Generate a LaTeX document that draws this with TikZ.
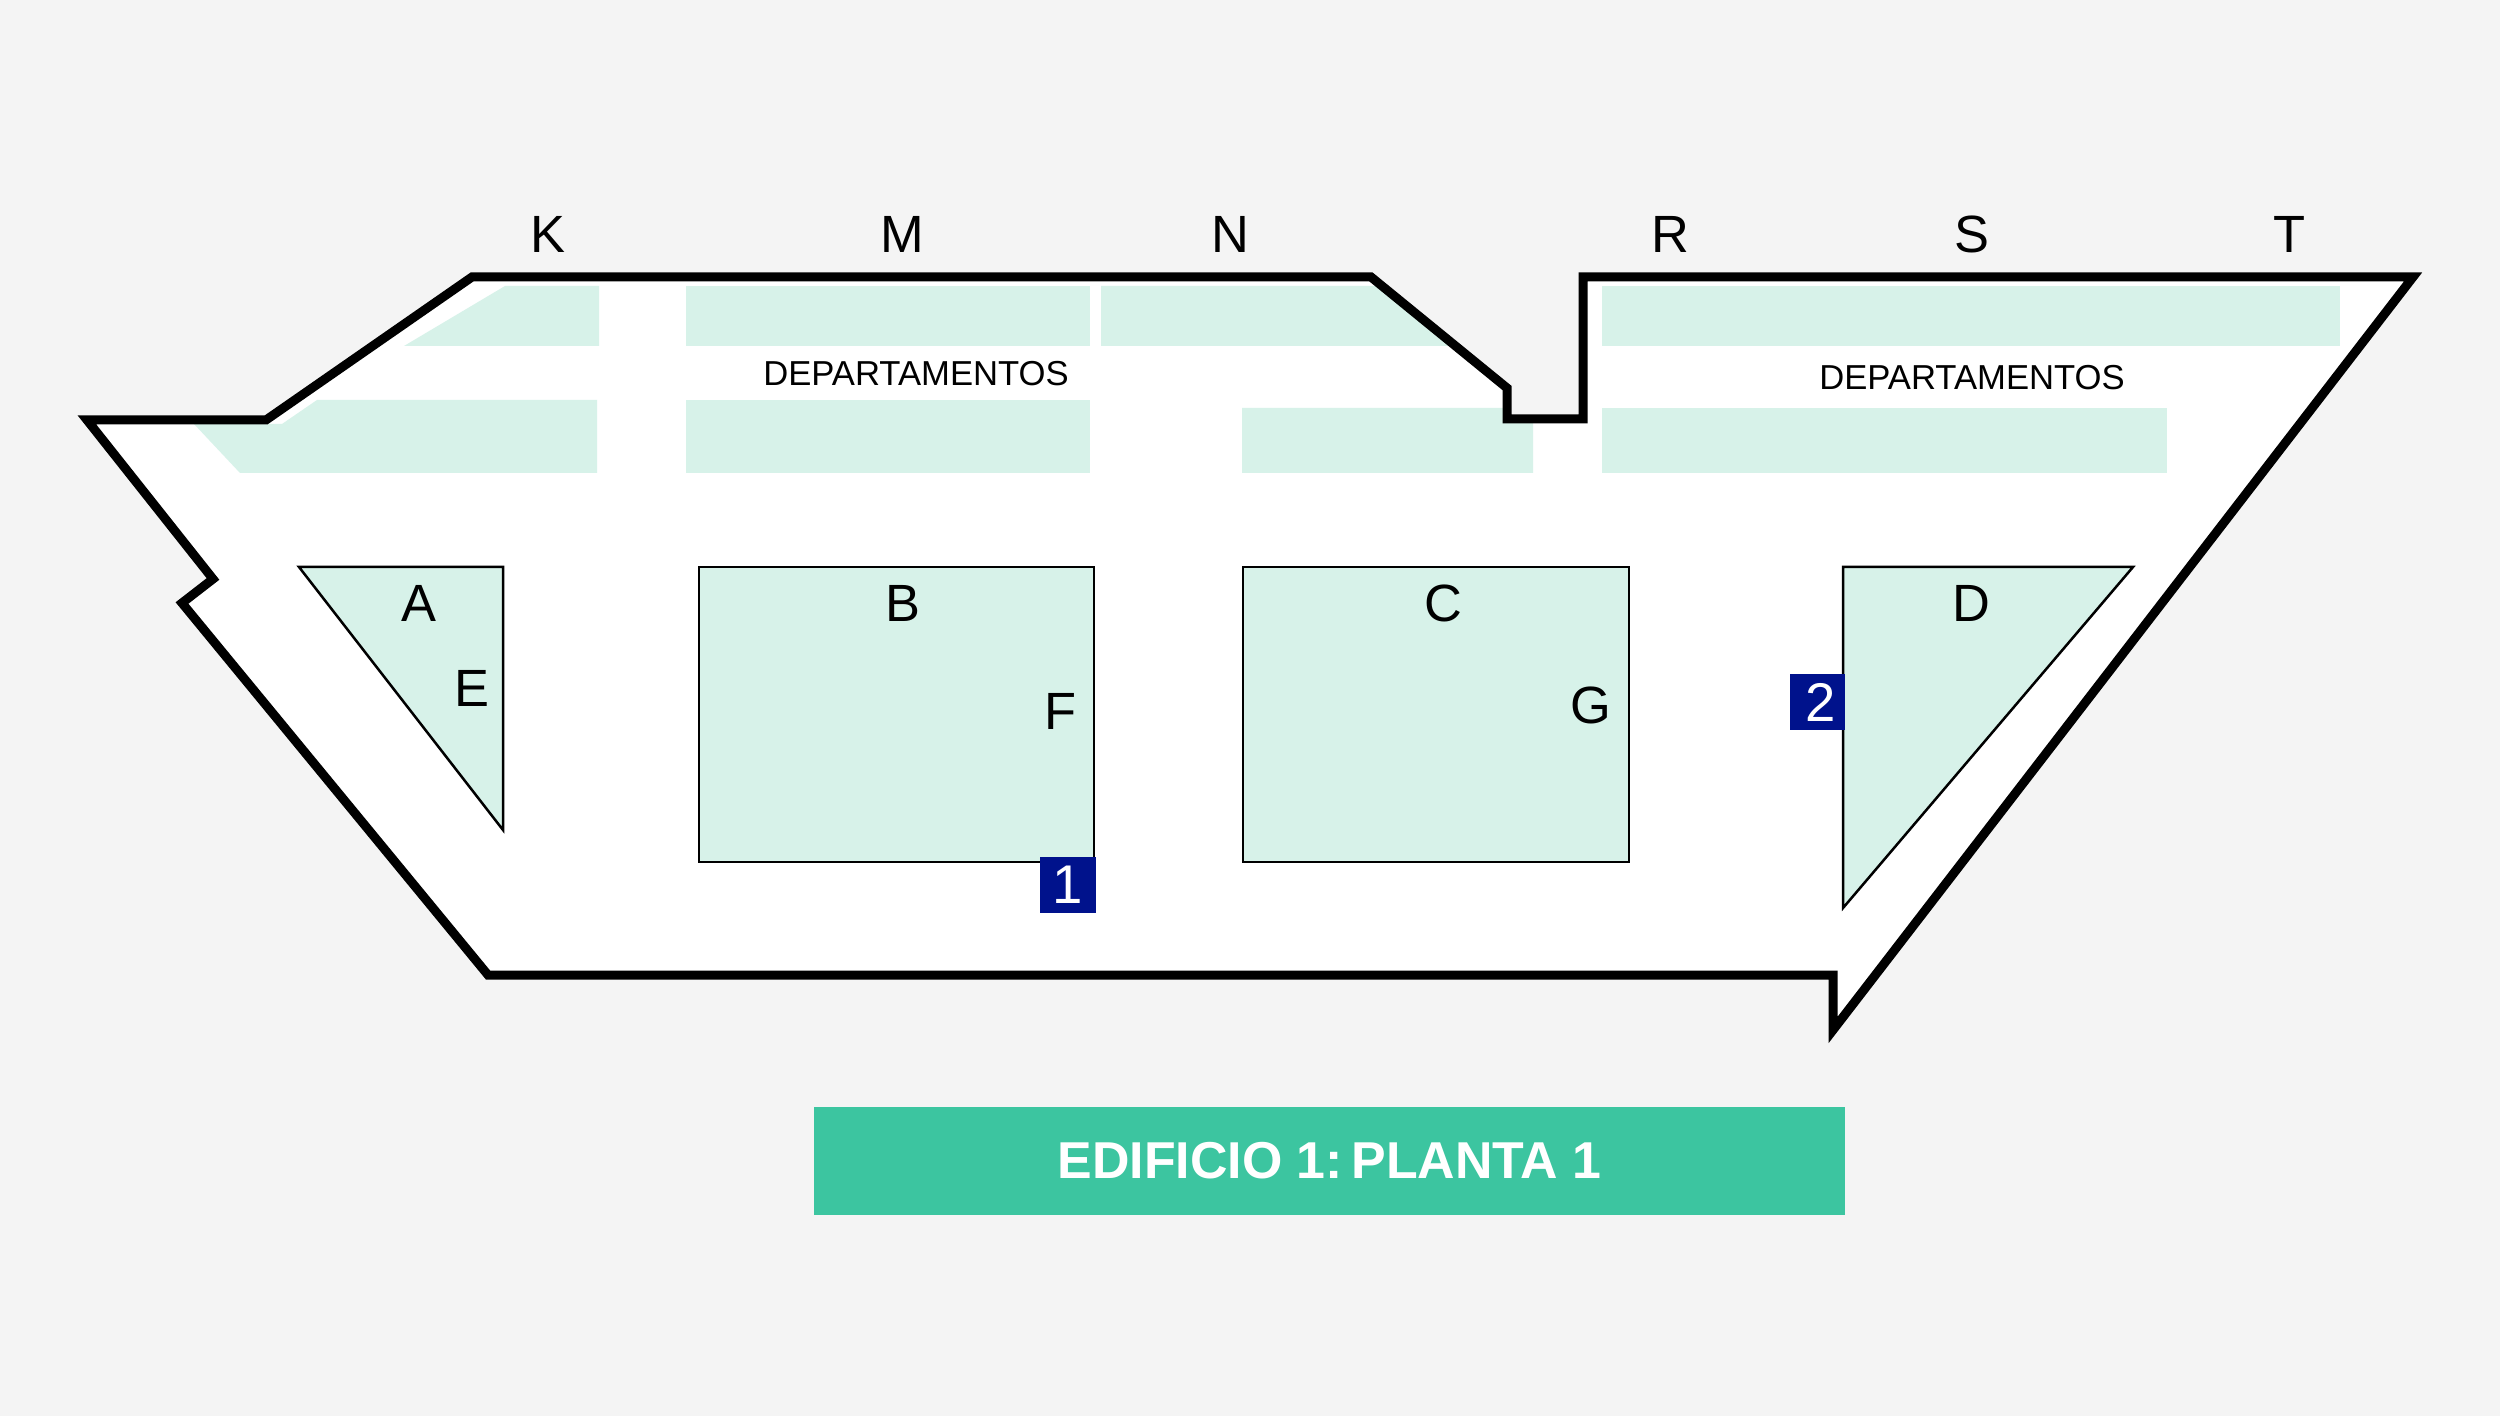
\documentclass[tikz,border=0pt]{standalone}
\usepackage{fontspec}
\setmainfont{Liberation Sans}
\definecolor{floorbg}{HTML}{F4F4F4}
\definecolor{roomfill}{HTML}{D7F2E9}
\definecolor{badgeblue}{HTML}{00128C}
\definecolor{titlegreen}{HTML}{3CC5A0}
\tikzset{
  room/.style={fill=roomfill,draw=none},
  block/.style={fill=roomfill,draw=black,line width=0.025cm},
  wall/.style={draw=black,line width=0.09cm,line join=miter,miter limit=10},
  letter/.style={anchor=base,inner sep=0pt,font=\fontsize{14.9}{18}\selectfont},
  deptname/.style={anchor=base,inner sep=0pt,font=\fontsize{9.85}{12}\selectfont},
  badge/.style={fill=badgeblue,text=white,inner sep=0pt,minimum width=0.55cm,minimum height=0.55cm,font=\fontsize{15.5}{18}\selectfont},
  titlebar/.style={fill=titlegreen,text=white,inner sep=0pt,minimum width=10.31cm,minimum height=1.07cm,font=\fontsize{14.75}{18}\bfseries\selectfont}
}
\begin{document}
\begin{tikzpicture}[x=0.01cm,y=-0.01cm]
\useasboundingbox (0,0) rectangle (2500,1416);
\fill[floorbg] (0,0) rectangle (2500,1416);

% outline of the floor
\coordinate (P1) at (87,420);
\coordinate (P2) at (266,420);
\coordinate (P3) at (472,277);
\coordinate (P4) at (1371,277);
\coordinate (P5) at (1507,388);
\coordinate (P6) at (1507,419);
\coordinate (P7) at (1583,419);
\coordinate (P8) at (1583,277);
\coordinate (P9) at (2413,277);
\coordinate (P10) at (1833,1030);
\coordinate (P11) at (1833,975);
\coordinate (P12) at (488,975);
\coordinate (P13) at (182,603);
\coordinate (P14) at (213,579);

\fill[white] (P1)--(P2)--(P3)--(P4)--(P5)--(P6)--(P7)--(P8)--(P9)--(P10)--(P11)--(P12)--(P13)--(P14)--cycle;

% departamentos, top row
\fill[room] (505,286)--(599,286)--(599,346)--(404,346)--cycle;
\fill[room] (686,286) rectangle (1090,346);
\fill[room] (1101,286)--(1382,286)--(1455,346)--(1101,346)--cycle;
\fill[room] (1602,286) rectangle (2340,346);

% departamentos, second row
\fill[room] (317,400)--(597,400)--(597,473)--(240,473)--(194,424)--(282,424)--cycle;
\fill[room] (686,400) rectangle (1090,473);
\fill[room] (1242,408)--(1507,408)--(1507,419)--(1533,419)--(1533,473)--(1242,473)--cycle;
\fill[room] (1602,408) rectangle (2167,473);

% inner blocks
\draw[block] (299,567)--(503,567)--(503,830)--cycle;
\draw[block] (699,567) rectangle (1094,862);
\draw[block] (1243,567) rectangle (1629,862);
\draw[block] (1843,567)--(2133,567)--(1843,908)--cycle;

\draw[wall] (P1)--(P2)--(P3)--(P4)--(P5)--(P6)--(P7)--(P8)--(P9)--(P10)--(P11)--(P12)--(P13)--(P14)--cycle;

\node[letter] (lK) at (548,253) {K};
\node[letter] (lM) at (902,253) {M};
\node[letter] (lN) at (1230,253) {N};
\node[letter] (lR) at (1670,253) {R};
\node[letter] (lS) at (1972,253) {S};
\node[letter] (lT) at (2289,253) {T};

\node[deptname] (dept1) at (916,386) {DEPARTAMENTOS};
\node[deptname] (dept2) at (1972,390) {DEPARTAMENTOS};

\node[letter] (lA) at (419,622) {A};
\node[letter] (lE) at (472,706) {E};
\node[letter] (lB) at (903,622) {B};
\node[letter] (lF) at (1060,729) {F};
\node[letter] (lC) at (1443,622) {C};
\node[letter] (lG) at (1591,724) {G};
\node[letter] (lD) at (1971,622) {D};

\node[badge] (one) at (1068,885) {1};
\node[badge] (two) at (1817,702) {\kern0.07cm 2};

\node[titlebar] (title) at (1329.5,1161) {EDIFICIO 1:\kern-0.06cm\ PLANTA 1};
\end{tikzpicture}
\end{document}
